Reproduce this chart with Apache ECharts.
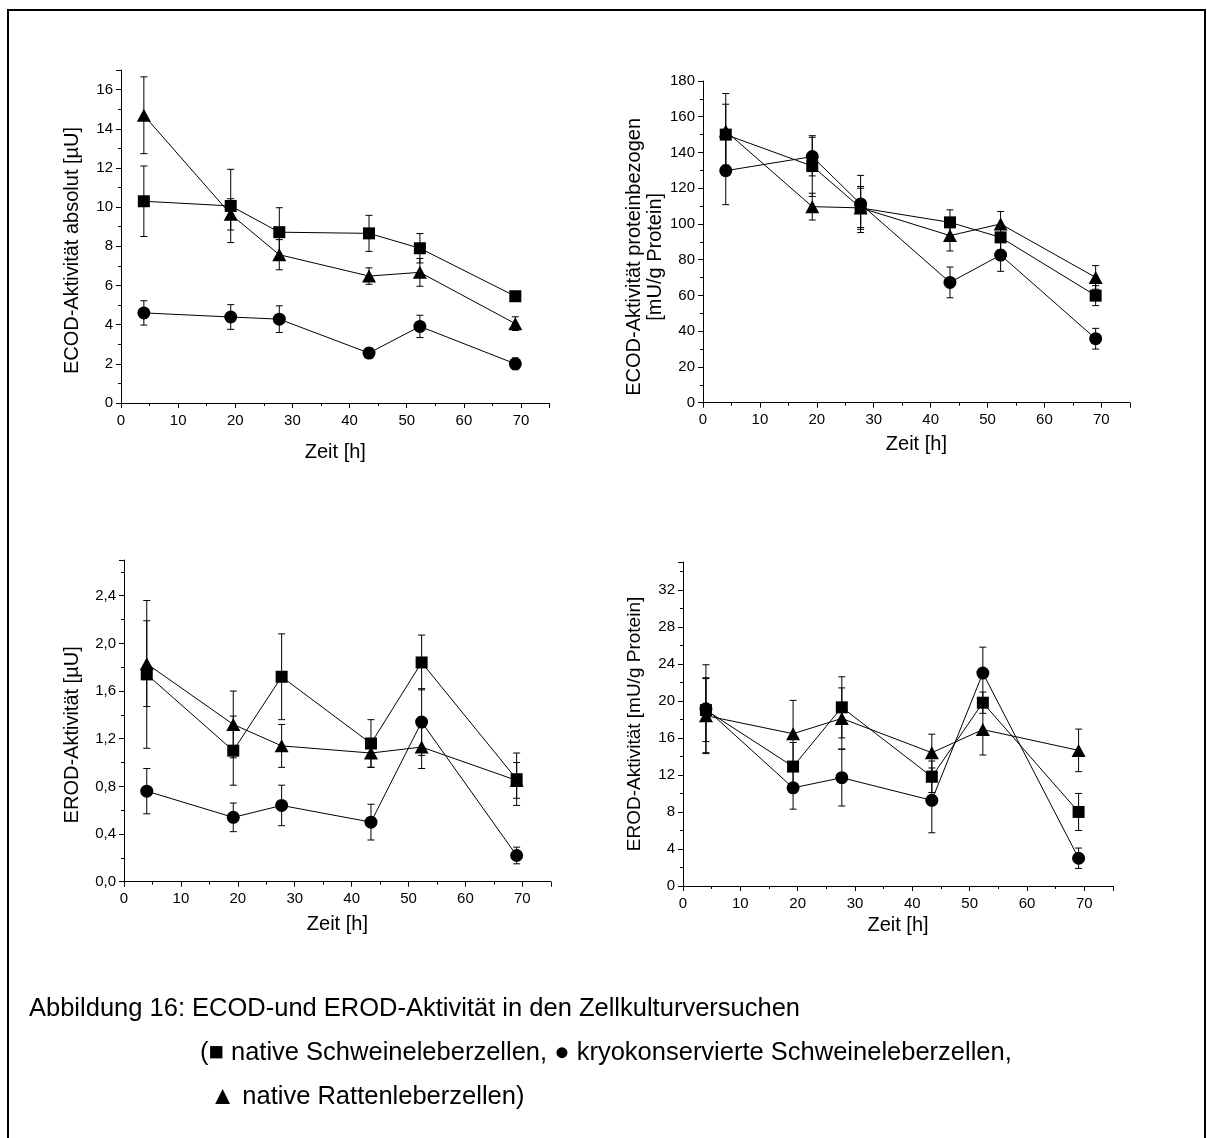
<!DOCTYPE html>
<html>
<head>
<meta charset="utf-8">
<script src="https://cdn.jsdelivr.net/npm/echarts@6/dist/echarts.min.js"></script>
<style>
html,body{margin:0;padding:0;background:#fff;}
#chart{width:1207px;height:1138px;}
</style>
</head>
<body>
<div id="chart"></div>
<script>
// ---- Data ----
const hours = [4, 19.2, 27.7, 43.4, 52.3, 69];

// ECOD-Aktivität absolut [µU]
const ecodAbsNative    = [10.3, 10.06, 8.72, 8.66, 7.9, 5.45];
const ecodAbsNativeErr = [1.8, 1.87, 1.25, 0.92, 0.75, 0.2];
const ecodAbsKryo      = [4.6, 4.39, 4.28, 2.55, 3.91, 2.0];
const ecodAbsKryoErr   = [0.62, 0.63, 0.68, 0.25, 0.57, 0.3];
const ecodAbsRat       = [14.69, 9.63, 7.57, 6.48, 6.67, 4.05];
const ecodAbsRatErr    = [1.96, 0.8, 0.77, 0.42, 0.71, 0.35];

// ECOD-Aktivität proteinbezogen [mU/g Protein]
const ecodProtNative    = [150, 132.4, 109, 100.9, 92.5, 59.9];
const ecodProtNativeErr = [17, 17, 12, 7, 7, 5.6];
const ecodProtKryo      = [129.8, 137.7, 111.2, 67.3, 82.6, 35.8];
const ecodProtKryoErr   = [19, 10.8, 16, 8.6, 9.1, 5.8];
const ecodProtRat       = [152, 109.7, 109, 93.5, 100, 70.1];
const ecodProtRatErr    = [21, 7.5, 11, 8.6, 7, 6.6];

// EROD-Aktivität [µU]
const erodAbsNative    = [1.74, 1.10, 1.72, 1.16, 1.84, 0.86];
const erodAbsNativeErr = [0.62, 0.29, 0.36, 0.2, 0.23, 0.22];
const erodAbsKryo      = [0.76, 0.54, 0.64, 0.50, 1.34, 0.22];
const erodAbsKryoErr   = [0.19, 0.12, 0.17, 0.15, 0.28, 0.07];
const erodAbsRat       = [1.83, 1.32, 1.14, 1.08, 1.13, 0.85];
const erodAbsRatErr    = [0.36, 0.28, 0.18, 0.12, 0.18, 0.15];

// EROD-Aktivität [mU/g Protein]
const erodProtNative    = [19.0, 12.9, 19.3, 11.8, 19.8, 8.0];
const erodProtNativeErr = [3.4, 2.6, 3.3, 1.7, 1.15, 2.0];
const erodProtKryo      = [19.15, 10.6, 11.7, 9.25, 23.0, 3.0];
const erodProtKryoErr   = [4.75, 2.3, 3.06, 3.5, 2.8, 1.1];
const erodProtRat       = [18.4, 16.45, 18.1, 14.4, 16.9, 14.65];
const erodProtRatErr    = [4.1, 3.6, 3.3, 2.0, 2.75, 2.3];

const xName = 'Zeit [h]';
const yNames = [
  'ECOD-Aktivität absolut [µU]',
  'ECOD-Aktivität proteinbezogen\n[mU/g Protein]',
  'EROD-Aktivität [µU]',
  'EROD-Aktivität [mU/g Protein]'
];
const captionLines = [
  'Abbildung 16: ECOD-und EROD-Aktivität in den Zellkulturversuchen',
  '(\u25A0 native Schweineleberzellen, \u25CF kryokonservierte Schweineleberzellen,',
  '\u25B2 native Rattenleberzellen)'
];

// ---- Chart ----
const FONT = 'Liberation Sans, Arial, sans-serif';
const chart = echarts.init(document.getElementById('chart'), null, {renderer: 'canvas'});

const grids = [
  {left: 121, top: 70, width: 428.6, height: 333},
  {left: 703, top: 81, width: 426.8, height: 321.7},
  {left: 124, top: 560, width: 426.8, height: 321.7},
  {left: 683, top: 562, width: 430, height: 324}
];

function xAxis(gi, gap) {
  return {
    type: 'value', gridIndex: gi, min: 0, max: 75, interval: 10,
    name: xName, nameLocation: 'middle', nameGap: gap,
    nameTextStyle: {fontSize: 20, color: '#000', fontFamily: FONT},
    axisLine: {show: true, onZero: false, lineStyle: {color: '#000', width: 1}},
    axisTick: {show: true, length: 5, lineStyle: {color: '#000', width: 1}},
    minorTick: {show: true, splitNumber: 2, length: 3, lineStyle: {color: '#000', width: 1}},
    axisLabel: {fontSize: 15, color: '#000', fontFamily: FONT, margin: 10, showMaxLabel: false},
    splitLine: {show: false}, minorSplitLine: {show: false}
  };
}
function yAxis(gi, max, interval, gap, fs, shift, fmt, lh, showMax) {
  return {
    type: 'value', gridIndex: gi, min: 0, max: max, interval: interval,
    name: yNames[gi], nameLocation: 'middle', nameGap: gap,
    nameTextStyle: {fontSize: fs, color: '#000', fontFamily: FONT, lineHeight: lh || fs + 2,
      padding: [0, shift * 2, 0, 0]},
    axisLine: {show: true, onZero: false, lineStyle: {color: '#000', width: 1}},
    axisTick: {show: true, length: 5, lineStyle: {color: '#000', width: 1}},
    minorTick: {show: true, splitNumber: 2, length: 3, lineStyle: {color: '#000', width: 1}},
    axisLabel: {fontSize: 15, color: '#000', fontFamily: FONT, margin: 8, showMaxLabel: !!showMax,
      formatter: fmt},
    splitLine: {show: false}, minorSplitLine: {show: false}
  };
}

const commaFmt = v => v.toFixed(1).replace('.', ',');

function errRender(params, api) {
  const x = api.value(0), lo = api.value(1), hi = api.value(2);
  const p1 = api.coord([x, lo]), p2 = api.coord([x, hi]);
  const w = 3.5;
  const st = {stroke: '#000', lineWidth: 1};
  return {
    type: 'group',
    children: [
      {type: 'line', shape: {x1: p1[0], y1: p1[1], x2: p2[0], y2: p2[1]}, style: st},
      {type: 'line', shape: {x1: p1[0] - w, y1: p1[1], x2: p1[0] + w, y2: p1[1]}, style: st},
      {type: 'line', shape: {x1: p2[0] - w, y1: p2[1], x2: p2[0] + w, y2: p2[1]}, style: st}
    ]
  };
}

const symbols = [
  {symbol: 'rect', size: 12},
  {symbol: 'circle', size: 13},
  {symbol: 'triangle', size: [14, 13]}
];

function panelSeries(gi, groups) {
  const out = [];
  groups.forEach((g, k) => {
    const vals = g[0], errs = g[1];
    out.push({
      type: 'custom', xAxisIndex: gi, yAxisIndex: gi, z: 2, silent: true,
      data: hours.map((h, i) => [h, vals[i] - errs[i], vals[i] + errs[i]]),
      encode: {x: 0, y: [1, 2]},
      renderItem: errRender
    });
    out.push({
      type: 'line', xAxisIndex: gi, yAxisIndex: gi, z: 3,
      data: hours.map((h, i) => [h, vals[i]]),
      symbol: symbols[k].symbol, symbolSize: symbols[k].size,
      itemStyle: {color: '#000', borderWidth: 0},
      lineStyle: {color: '#000', width: 1},
      showAllSymbol: true
    });
  });
  return out;
}

const series = [].concat(
  panelSeries(0, [[ecodAbsNative, ecodAbsNativeErr], [ecodAbsKryo, ecodAbsKryoErr], [ecodAbsRat, ecodAbsRatErr]]),
  panelSeries(1, [[ecodProtNative, ecodProtNativeErr], [ecodProtKryo, ecodProtKryoErr], [ecodProtRat, ecodProtRatErr]]),
  panelSeries(2, [[erodAbsNative, erodAbsNativeErr], [erodAbsKryo, erodAbsKryoErr], [erodAbsRat, erodAbsRatErr]]),
  panelSeries(3, [[erodProtNative, erodProtNativeErr], [erodProtKryo, erodProtKryoErr], [erodProtRat, erodProtRatErr]])
);

const capStyle = {fontSize: 25.5, fontFamily: FONT, fill: '#000', verticalAlign: 'middle', align: 'left'};

chart.setOption({
  animation: false,
  backgroundColor: '#fff',
  grid: grids,
  xAxis: [xAxis(0, 39), xAxis(1, 32), xAxis(2, 33), xAxis(3, 29)],
  yAxis: [
    yAxis(0, 17, 2, 38, 20, 14),
    yAxis(1, 180, 20, 37, 20, 15, undefined, 21, true),
    yAxis(2, 2.7, 0.4, 41, 20, 14, commaFmt),
    yAxis(3, 35, 4, 38, 19, 0)
  ],
  series: series,
  graphic: [
    {type: 'rect', silent: true, shape: {x: 8, y: 10, width: 1197, height: 1200},
      style: {fill: 'none', stroke: '#000', lineWidth: 2}},
    {type: 'text', x: 29, y: 1009, style: Object.assign({text: captionLines[0]}, capStyle)},
    {type: 'text', x: 200, y: 1053, style: Object.assign({text: captionLines[1]}, capStyle)},
    {type: 'text', x: 210, y: 1097, style: Object.assign({text: captionLines[2]}, capStyle)}
  ]
});
</script>
</body>
</html>
